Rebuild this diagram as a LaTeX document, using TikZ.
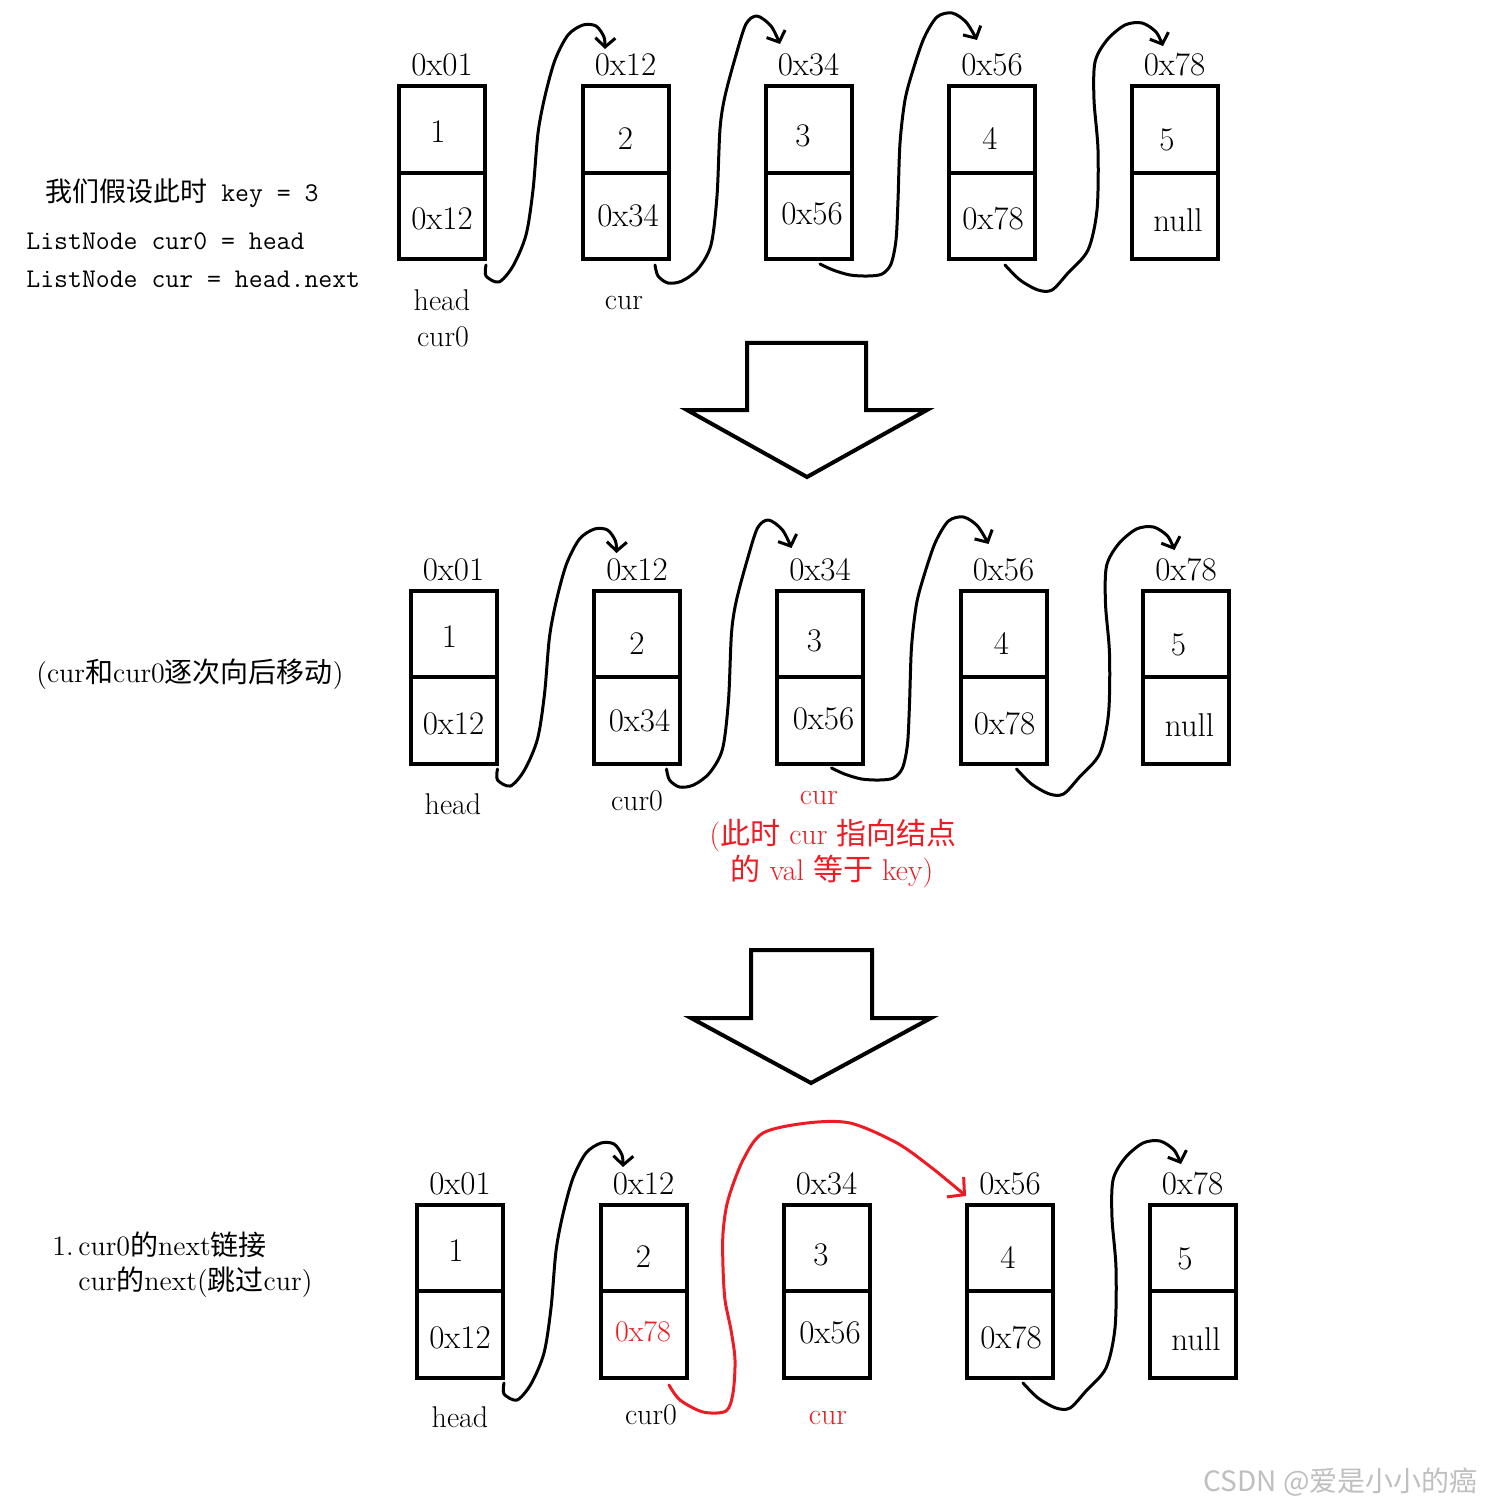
\documentclass[tikz,border=0pt]{standalone}
\usepackage{fontspec}
\newfontfamily\cjk{Noto Sans CJK SC}
\usetikzlibrary{calc,arrows.meta}
\definecolor{myred}{RGB}{237,28,36}
\tikzset{
  cell/.style={draw, line width=2pt, minimum width=43pt, minimum height=86.5pt, inner sep=0pt},
  cellline/.style={line width=2pt},
  txt/.style={anchor=base, inner sep=0pt, font=\fontsize{16.5}{19}\selectfont},
  lab/.style={anchor=base, inner sep=0pt, font=\fontsize{15}{18}\selectfont},
  code/.style={anchor=base west, inner sep=0pt, font=\ttfamily\fontsize{13.5}{16}\selectfont},
  note/.style={anchor=base west, inner sep=0pt, font=\fontsize{14}{17}\selectfont},
  link/.style={line width=1.5pt, line cap=round, line join=round, -{Straight Barb[length=4.5pt,width=10pt]}},
  redlink/.style={draw=myred, line width=1.5pt, line cap=round, line join=round, -{Straight Barb[length=6pt,width=13pt]}},
  bigarrow/.style={draw, fill=white, line width=2pt, line join=miter}
}
\newcommand\llbox[7]{%
  \node[cell] (#1) at (#2,173) {};
  \draw[cellline] (#1.west) -- (#1.east);
  \node[txt] (#1addr) at ($(#1.north)+(0,-8.5)$) {#3};
  \node[txt] (#1val) at ($(#1.center)+#6$) {#4};
  \node[txt] (#1next) at ($(#1.center)+#7$) {#5};
}
\newcommand\linkA[1]{%
  \coordinate (#1Ao) at ($(#11.south east)+(-1,3.5)$);
  \coordinate (#1Ai) at ($(#12.north)+(-20.5,-35.5)$);
  \draw[link] plot[smooth] coordinates {(#1Ao) (486,276) (499,282) (513,266) (526,235) (533,190) (538,133) (545,96) (555,60) (568,35) (583,25) (596,26) (604,37) (#1Ai)};
}
\newcommand\linkB[1]{%
  \coordinate (#1Bo) at ($(#12.south)+(29.5,3.5)$);
  \coordinate (#1Bi) at ($(#13.north)+(-28.5,-40.5)$);
  \draw[link] plot[smooth] coordinates {(#1Bo) (658,276) (668,283) (682,281) (698,269) (711,245) (717,196) (720,129) (725,96) (736,55) (746,24) (757,16) (771,26) (#1Bi)};
}
\newcommand\linkC[1]{%
  \coordinate (#1Co) at ($(#13.south)+(11.5,2.5)$);
  \coordinate (#1Ci) at ($(#14.north)+(-15,-44.5)$);
  \draw[link] plot[smooth] coordinates {(#1Co) (833,270) (850,275) (868,276) (882,274) (891,264) (896,240) (898,200) (900,143) (905,100) (913,70) (924,38) (937,17) (952,13) (966,22) (#1Ci)};
}
\newcommand\linkD[1]{%
  \coordinate (#1Do) at ($(#14.south)+(13,3.5)$);
  \coordinate (#1Di) at ($(#15.north)+(-11.5,-38.5)$);
  \draw[link] plot[smooth] coordinates {(#1Do) (1020,280) (1038,290) (1052,290) (1068,273) (1088,250) (1097,210) (1098,150) (1094,100) (1095,62) (1107,40) (1125,25) (1142,23) (1156,32) (#1Di)};
}
\begin{document}
\begin{tikzpicture}[x=0.5pt,y=-0.5pt]
\fill[white] (0,0) rectangle (1484,1508);
\useasboundingbox (0,0) rectangle (1484,1508);

% ---------- row 1 ----------
\begin{scope}
\llbox{a1}{442}{0x01}{1}{0x12}{(-4,-30)}{(0,57)}
\llbox{a2}{625.5}{0x12}{2}{0x34}{(0,-23)}{(2.5,54)}
\llbox{a3}{808.5}{0x34}{3}{0x56}{(-5.5,-26)}{(3.5,52)}
\llbox{a4}{992}{0x56}{4}{0x78}{(-2,-23)}{(1,57)}
\llbox{a5}{1174.5}{0x78}{5}{null}{(-7.5,-22)}{(3.5,59)}
\linkA{a}\linkB{a}\linkC{a}\linkD{a}
\node[lab] (a1lab) at ($(a1.south)+(0,49.5)$) {head};
\node[lab] (a1lab2) at ($(a1.south)+(1,85.5)$) {cur0};
\node[lab] (a2lab) at ($(a2.south)+(-1.5,48.5)$) {cur};
\end{scope}

\node[code] (t1) at (45,202) {{\cjk 我们假设此时} key = 3};
\node[code] (t2) at (26,250) {ListNode cur0 = head};
\node[code] (t3) at (26,288) {ListNode cur = head.next};

\draw[bigarrow] (747,343) -- (866,343) -- (866,410) -- (927,410) -- (807,477) -- (687,410) -- (747,410) -- cycle;

% ---------- row 2 ----------
\begin{scope}[shift={(11.5,504)}]
\llbox{b1}{442}{0x01}{1}{0x12}{(-4,-30)}{(0,57)}
\llbox{b2}{625.5}{0x12}{2}{0x34}{(0,-23)}{(2.5,54)}
\llbox{b3}{808.5}{0x34}{3}{0x56}{(-5.5,-26)}{(3.5,52)}
\llbox{b4}{992}{0x56}{4}{0x78}{(-2,-23)}{(1,57)}
\llbox{b5}{1174.5}{0x78}{5}{null}{(-7.5,-22)}{(3.5,59)}
\linkA{b}\linkB{b}\linkC{b}\linkD{b}
\node[lab] (b1lab) at ($(b1.south)+(-0.5,48.5)$) {head};
\node[lab] (b2lab) at ($(b2.south)+(0,44.5)$) {cur0};
\node[lab, text=myred] (b3lab) at ($(b3.south)+(-1,38.5)$) {cur};
\node[lab, text=myred] (b3note1) at ($(b3.south)+(13,78.5)$) {({\cjk 此时} cur {\cjk 指向结点}};
\node[lab, text=myred] (b3note2) at ($(b3.south)+(12,114.5)$) {{\cjk 的} val {\cjk 等于} key)};
\end{scope}

\node[note] (t4) at (36,682) {(cur{\cjk 和}cur0{\cjk 逐次向后移动})};

\draw[bigarrow] (751,950) -- (872,950) -- (872,1018) -- (931,1018) -- (811,1083) -- (691,1018) -- (751,1018) -- cycle;

% ---------- row 3 ----------
\begin{scope}[shift={(18,1118)}]
\llbox{c1}{442}{0x01}{1}{0x12}{(-4,-30)}{(0,57)}
\llbox{c2}{625.5}{0x12}{2}{{\color{myred}\fontsize{15}{17}\selectfont 0x78}}{(0,-24)}{(-0.5,50)}
\llbox{c3}{808.5}{0x34}{3}{0x56}{(-5.5,-26)}{(3.5,52)}
\llbox{c4}{992}{0x56}{4}{0x78}{(-2,-23)}{(1,57)}
\llbox{c5}{1174.5}{0x78}{5}{null}{(-7.5,-22)}{(3.5,59)}
\linkA{c}\linkD{c}
\node[lab] (c1lab) at ($(c1.south)+(0,47.5)$) {head};
\node[lab] (c2lab) at ($(c2.south)+(7.5,44.5)$) {cur0};
\node[lab, text=myred] (c3lab) at ($(c3.south)+(1.5,44.5)$) {cur};
\end{scope}

\coordinate (ro) at ($(c2.south)+(25.5,5.5)$);
\coordinate (ri) at ($(c4.north west)+(1,-6.5)$);
\draw[redlink] plot[smooth] coordinates {(ro) (680,1400) (703,1412) (726,1411) (733,1393) (735,1360) (731,1330) (725,1300) (723,1267) (723,1233) (728,1200) (743,1160) (763,1133) (807,1123) (850,1123) (897,1143) (932,1168) (ri)};

\node[note] (t5) at (52,1255) {1.\,cur0{\cjk 的}next{\cjk 链接}};
\node[note] (t6) at (78,1290) {cur{\cjk 的}next({\cjk 跳过}cur)};

\node[anchor=east, inner sep=0pt, text=black!25, font=\cjk\fontsize{14}{16}\selectfont] (wm) at (1478,1482) {CSDN @爱是小小的癌};
\end{tikzpicture}
\end{document}
